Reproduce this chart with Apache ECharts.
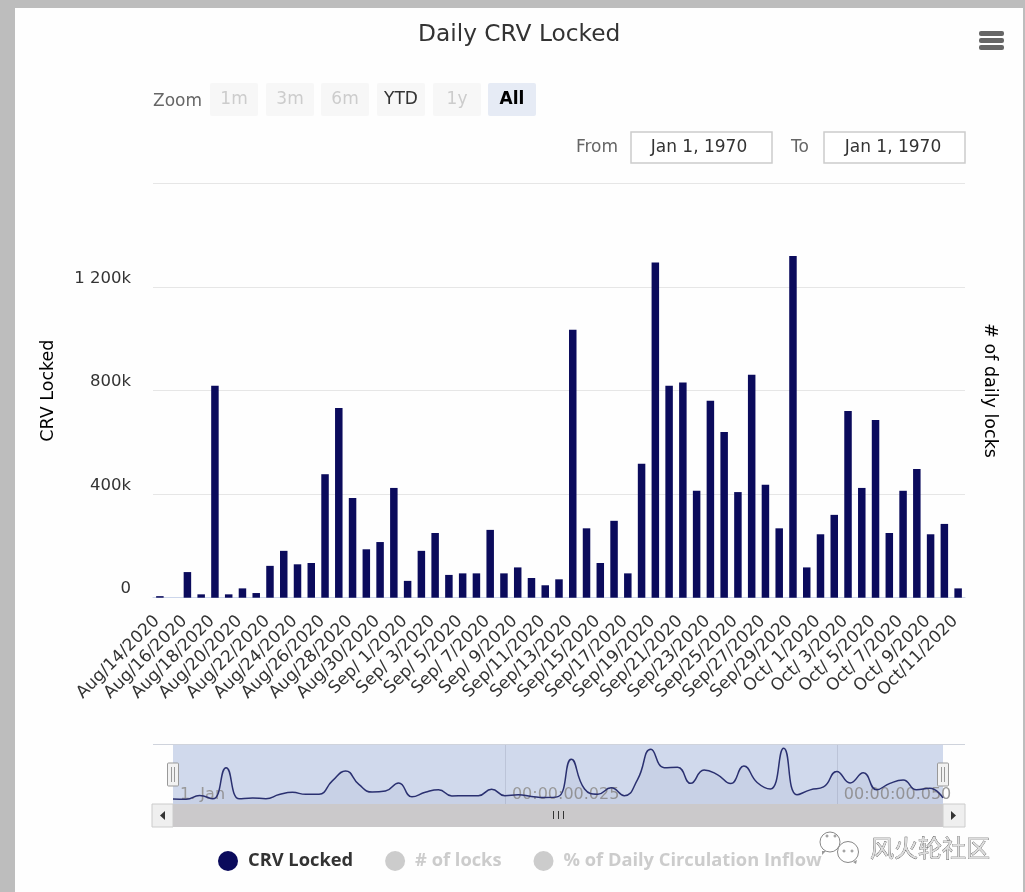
<!DOCTYPE html>
<html>
<head>
<meta charset="utf-8">
<script src="https://cdn.jsdelivr.net/npm/echarts@6/dist/echarts.min.js"></script>
<style>
html,body{margin:0;padding:0;background:#fff}
#main{width:1025px;height:892px}
</style>
</head>
<body>
<div id="main"></div>
<script>
// one date per bar, Aug 14 - Oct 11 2020
const dates = [
  'Aug/14/2020','Aug/15/2020','Aug/16/2020','Aug/17/2020','Aug/18/2020','Aug/19/2020','Aug/20/2020','Aug/21/2020',
  'Aug/22/2020','Aug/23/2020','Aug/24/2020','Aug/25/2020','Aug/26/2020','Aug/27/2020','Aug/28/2020','Aug/29/2020',
  'Aug/30/2020','Aug/31/2020','Sep/ 1/2020','Sep/ 2/2020','Sep/ 3/2020','Sep/ 4/2020','Sep/ 5/2020','Sep/ 6/2020',
  'Sep/ 7/2020','Sep/ 8/2020','Sep/ 9/2020','Sep/10/2020','Sep/11/2020','Sep/12/2020','Sep/13/2020','Sep/14/2020',
  'Sep/15/2020','Sep/16/2020','Sep/17/2020','Sep/18/2020','Sep/19/2020','Sep/20/2020','Sep/21/2020','Sep/22/2020',
  'Sep/23/2020','Sep/24/2020','Sep/25/2020','Sep/26/2020','Sep/27/2020','Sep/28/2020','Sep/29/2020','Sep/30/2020',
  'Oct/ 1/2020','Oct/ 2/2020','Oct/ 3/2020','Oct/ 4/2020','Oct/ 5/2020','Oct/ 6/2020','Oct/ 7/2020','Oct/ 8/2020',
  'Oct/ 9/2020','Oct/10/2020','Oct/11/2020'
];
const crvLocked = [
  6000,0,99000,13000,819000,13000,36000,18000,123000,181000,
  129000,134000,477000,733000,385000,187000,215000,424000,65000,181000,
  250000,88000,94000,94000,262000,94000,117000,76000,48000,71000,
  1035000,268000,134000,297000,94000,517000,1295000,819000,831000,413000,
  761000,640000,408000,861000,436000,268000,1320000,117000,245000,320000,
  721000,424000,686000,250000,413000,497000,245000,285000,36000
];
const legendNames = ['CRV Locked','# of locks','% of Daily Circulation Inflow'];
const yTickLabels = {0:'0',400000:'400k',800000:'800k',1200000:'1 200k'};
const navTickLabels = {0:'1. Jan',25:'00:00:00.025',50:'00:00:00.050'};
const zoomButtons = ['1m','3m','6m','YTD','1y','All'];

const LEGEND_FONT = '"Open Sans", sans-serif';
const AXIS_FONT = '"DejaVu Sans", sans-serif';

// page chrome helpers
const rect = (x,y,w,h,fill,extra={}) => ({type:'rect',shape:{x,y,width:w,height:h,r:extra.r||0},
  style:{fill,stroke:extra.stroke||null,lineWidth:extra.lw||1},z:extra.z||10,silent:true});
const label = (x,y,text,size,color,extra={}) => ({type:'text',x,y,z:extra.z||11,silent:true,
  style:{text,fill:color,font:`${extra.weight||'normal'} ${size}px ${extra.font||AXIS_FONT}`,
    textAlign:extra.align||'center',textVerticalAlign:'middle',stroke:extra.stroke,lineWidth:extra.lw}});
const seg = (x1,y1,x2,y2,color,lw=1) => ({type:'line',shape:{x1,y1,x2,y2},style:{stroke:color,lineWidth:lw},z:12,silent:true});
const tri = (pts,fill) => ({type:'polygon',shape:{points:pts},style:{fill},z:12,silent:true});
const ring = (cx,cy,r,stroke,fill) => ({type:'circle',shape:{cx,cy,r},style:{stroke,fill,lineWidth:1},z:11,silent:true});

const chrome = [
  rect(0,0,1025,8,'#bdbdbd'), rect(0,0,15,892,'#bdbdbd'), rect(1023,0,2,892,'#bdbdbd'),
  // export menu
  rect(979,31,25,5,'#666',{r:2}), rect(979,38,25,5,'#666',{r:2}), rect(979,45,25,5,'#666',{r:2}),
  label(153,102,'Zoom',17,'#666',{align:'left'})
];
const buttonX = [210,266,321,377,433,488];
zoomButtons.forEach((b,i) => {
  const active = b === 'All', on = b === 'YTD';
  chrome.push(rect(buttonX[i],83,48,33,active ? '#e6ebf5' : '#f7f7f7',{r:2}));
  chrome.push(label(buttonX[i]+24,99.5,b,17,active ? '#000' : on ? '#333' : '#ccc',{weight:active?'bold':'normal'}));
});
chrome.push(
  label(597,148,'From',17,'#666'), rect(631,132,141,31,'#fff',{stroke:'#ccc',lw:1.5}), label(699,148,'Jan 1, 1970',17,'#333'),
  label(800,148,'To',17,'#666'), rect(824,132,141,31,'#fff',{stroke:'#ccc',lw:1.5}), label(893,148,'Jan 1, 1970',17,'#333'),
  // navigator frame and scrollbar
  seg(153,744.5,965,744.5,'#cfd3dc'),
  rect(173,804,770,23,'#cbc9cb'),
  rect(152,804,21,23,'#efefef',{stroke:'#ccc'}), rect(943,804,22,23,'#efefef',{stroke:'#ccc'}),
  tri([[165,811],[165,820],[160,815.5]],'#333'), tri([[951,811],[951,820],[956,815.5]],'#333'),
  seg(553.5,811,553.5,819,'#333'), seg(558.5,811,558.5,819,'#333'), seg(563.5,811,563.5,819,'#333'),
  rect(167.5,763,11,23,'#f2f2f2',{stroke:'#999',r:1}), seg(171.5,767,171.5,782,'#999'), seg(174.5,767,174.5,782,'#999'),
  rect(937.5,763,11,23,'#f2f2f2',{stroke:'#999',r:1}), seg(941.5,767,941.5,782,'#999'), seg(944.5,767,944.5,782,'#999'),
  // watermark
  ring(830,842,10,'#888','#fff'), ring(848,852,10.5,'#888','#fff'),
  tri([[822,851],[826,851],[822,855]],'#999'), tri([[853,862],[857,860],[856,864]],'#999'),
  ring(827,836,1,'#888','#fff'), ring(835,836,1,'#888','#fff'), ring(844,851,1,'#888','#fff'), ring(852,851,1,'#888','#fff'),
  label(930,848,'风火轮社区',24,'#ddd',{font:'"Noto Sans CJK SC"',stroke:'#444',lw:0.6})
);

const chart = echarts.init(document.getElementById('main'), null, {renderer:'canvas'});
chart.setOption({
  animation:false,
  backgroundColor:'#fefefe',
  title:{text:'Daily CRV Locked',left:418,top:23,padding:0,
    textStyle:{fontFamily:AXIS_FONT,fontSize:23.3,fontWeight:'normal',color:'#333'}},
  legend:{data:legendNames,left:218,top:851,padding:0,icon:'circle',itemWidth:20,itemHeight:20,itemGap:32,
    selected:{[legendNames[1]]:false,[legendNames[2]]:false},
    inactiveColor:'#ccc',
    textStyle:{fontFamily:LEGEND_FONT,fontSize:18.3,fontWeight:'bold',color:'#333',padding:[0,0,0,5]}},
  grid:[
    {left:153,right:60,top:183.5,bottom:294.3},
    {left:173,width:770,top:745,height:59,show:true,borderWidth:0,backgroundColor:'rgba(102,133,194,0.3)'}
  ],
  xAxis:[
    {type:'category',gridIndex:0,data:dates,
      axisTick:{show:false},axisLine:{lineStyle:{color:'#ccd6eb'}},
      axisLabel:{rotate:45,interval:1,margin:18,padding:[0,4,0,0],fontFamily:AXIS_FONT,fontSize:17,color:'#333'}},
    {type:'value',gridIndex:1,min:0,max:58,interval:25,
      axisLine:{show:false},axisTick:{show:false},
      splitLine:{show:true,showMinLine:false,showMaxLine:false,lineStyle:{color:'#bcc4d8'}},
      axisLabel:{inside:true,showMaxLabel:false,align:'left',margin:1,padding:[0,0,0,7],fontFamily:AXIS_FONT,fontSize:16,color:'#999',
        formatter:v => navTickLabels[v] || ''}}
  ],
  yAxis:[
    {type:'value',gridIndex:0,min:0,max:1600000,interval:400000,
      name:'CRV Locked',nameLocation:'middle',nameGap:96,
      nameTextStyle:{fontFamily:AXIS_FONT,fontSize:17.5,color:'#000'},
      axisLine:{show:false},axisTick:{show:false},
      splitLine:{lineStyle:{color:'#e6e6e6'}},
      axisLabel:{margin:22,verticalAlign:'bottom',lineHeight:17,fontFamily:AXIS_FONT,fontSize:16.5,color:'#333',
        formatter:v => yTickLabels[v] || ''}},
    {type:'value',gridIndex:0,position:'right',min:0,max:1600000,interval:400000,
      name:'# of daily locks',nameLocation:'middle',nameGap:16,nameRotate:-90,
      nameTextStyle:{fontFamily:AXIS_FONT,fontSize:17.5,color:'#000'},
      axisLine:{show:false},axisTick:{show:false},axisLabel:{show:false},splitLine:{show:false}},
    {type:'value',gridIndex:1,min:-120000,max:1404000,show:false}
  ],
  series:[
    {name:legendNames[0],type:'bar',xAxisIndex:0,yAxisIndex:0,data:crvLocked,barWidth:7.5,
      itemStyle:{color:'#0b0b5c'}},
    {name:legendNames[1],type:'line',xAxisIndex:0,yAxisIndex:1,data:[],itemStyle:{color:'#ccc'}},
    {name:legendNames[2],type:'line',xAxisIndex:0,yAxisIndex:1,data:[],itemStyle:{color:'#ccc'}},
    // navigator line, same values on its own 0-58 index axis
    {type:'line',xAxisIndex:1,yAxisIndex:2,smooth:0.5,showSymbol:false,
      data:crvLocked.map((v,i) => [i,v]),
      lineStyle:{color:'#2a3070',width:1.5},
      areaStyle:{color:'rgba(11,11,92,0.05)',origin:'start'}}
  ],
  graphic:{elements:chrome}
});
</script>
</body>
</html>
